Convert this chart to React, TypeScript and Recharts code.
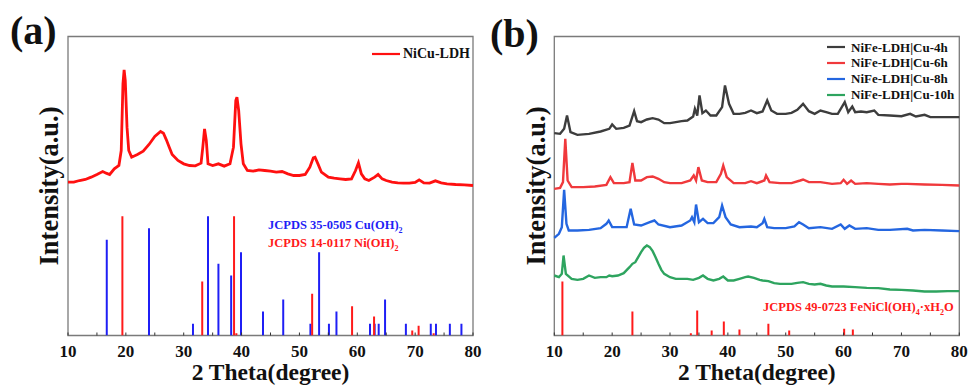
import { Label, Line, LineChart, ReferenceArea, XAxis, YAxis } from 'recharts'

const FONT = '"Times New Roman", "Liberation Serif", serif'

// 2-theta ticks, labels only on the tens
const thetaTicks = [10, 15, 20, 25, 30, 35, 40, 45, 50, 55, 60, 65, 70, 75, 80]

// (a) NiCu-LDH pattern, [2theta, intensity a.u.]
const niCuLdh = [
  [10, 460], [11, 460], [12, 465], [13, 468], [14, 475], [15, 483], [16, 492], [16.6, 487],
  [17.2, 483], [18, 500], [18.8, 510], [19.2, 555], [19.5, 755], [19.7, 797], [19.9, 765],
  [20.2, 625], [20.5, 555], [21, 535], [22, 543], [23, 553], [24, 573], [25, 597], [26, 612],
  [26.5, 607], [27, 587], [27.5, 565], [28, 543], [29, 525], [30, 515], [31, 510], [32, 509],
  [33, 517], [33.3, 565], [33.6, 620], [33.9, 585], [34.2, 515], [35, 510], [36, 515],
  [37, 508], [38, 515], [38.6, 565], [39, 705], [39.2, 715], [39.5, 675], [39.9, 575],
  [40.3, 515], [41, 495], [42, 493], [43, 497], [44, 495], [45, 493], [46, 490], [47, 492],
  [48, 485], [49, 480], [50, 480], [51, 483], [51.8, 505], [52.4, 533], [52.7, 535],
  [53.2, 515], [53.8, 490], [55, 475], [56, 472], [57, 470], [58, 468], [59, 470],
  [59.7, 495], [60.2, 518], [60.7, 485], [61.3, 470], [62, 465], [63, 475], [63.6, 483],
  [64.3, 470], [65, 465], [66, 460], [67, 458], [68, 457], [69, 457], [70, 459], [70.7, 467],
  [71.5, 458], [72.5, 457], [73.5, 464], [74.5, 458], [75.5, 455], [77, 453], [78.5, 452],
  [80, 450],
]

// (a) reference cards
const cuOHPos = [16.7, 24.0, 31.6, 34.2, 36.0, 38.2, 39.9, 43.7, 47.2, 51.9, 53.4, 55.1, 56.4, 62.2, 63.0, 63.7, 64.8, 68.4, 72.7, 73.6, 76.0, 78.0]
const cuOHInt = [287, 322, 35, 358, 215, 180, 250, 72, 108, 35, 250, 35, 72, 35, 35, 35, 108, 35, 35, 35, 35, 35]
const niOHPos = [19.4, 33.2, 38.7, 39.1, 52.2, 59.1, 62.9, 69.5, 70.6, 73.2]
const niOHInt = [358, 162, 358, 7, 125, 88, 57, 15, 29, 7]

// (b) NiFe-LDH|Cu patterns
const cu4h = [
  [10, 607], [11, 605], [11.7, 620], [12.2, 660], [12.8, 610], [14, 602], [16, 605], [18, 612],
  [19.5, 620], [20, 633], [20.7, 620], [22, 623], [23, 630], [23.8, 673], [24.3, 643], [25, 640],
  [26, 648], [27, 652], [28, 648], [29, 637], [30, 637], [31, 640], [32, 643], [33, 645],
  [34, 657], [34.3, 680], [34.7, 660], [35.1, 720], [35.6, 667], [36.2, 675], [37, 660],
  [38, 660], [39, 685], [39.5, 750], [40.2, 695], [41, 665], [42, 665], [43, 668], [44, 675],
  [45, 667], [46, 672], [46.8, 705], [47.5, 675], [48.5, 665], [50, 665], [51, 668], [52, 677],
  [53, 695], [54, 673], [55, 665], [56, 675], [57, 670], [58, 665], [59, 665], [60.2, 700],
  [60.8, 670], [61.5, 687], [62, 670], [63, 672], [64, 670], [65.3, 675], [66, 662], [68, 660],
  [70, 658], [71.5, 665], [72.5, 657], [74, 662], [75, 655], [77, 655], [80, 655],
]
const cu6h = [
  [10, 440], [11, 443], [11.5, 460], [11.9, 590], [12.3, 465], [13, 445], [15, 445], [17, 447],
  [19, 452], [19.7, 475], [20.3, 457], [22, 457], [23, 460], [23.5, 518], [24, 465], [25, 465],
  [26, 475], [27, 477], [28, 470], [29, 460], [30, 457], [32, 457], [33.5, 465], [34.1, 480],
  [34.5, 465], [34.9, 505], [35.5, 465], [36.5, 460], [38, 460], [38.8, 485], [39.2, 510],
  [39.8, 475], [41, 457], [43, 457], [44, 463], [45, 457], [46.3, 465], [46.6, 480], [47.2, 460],
  [49, 457], [51, 457], [52.5, 465], [53, 468], [54, 460], [56, 460], [58, 455], [59.5, 457],
  [60, 467], [60.6, 455], [61.3, 465], [62, 455], [64, 457], [66, 455], [68, 453], [70, 455],
  [71, 455], [74, 453], [77, 452], [80, 450],
]
const cu8h = [
  [10, 293], [10.8, 305], [11.3, 325], [11.7, 437], [12.1, 335], [12.5, 315], [14, 315], [16, 317],
  [18, 322], [19, 335], [19.4, 345], [20, 325], [21, 325], [22.5, 325], [23.2, 380], [23.8, 333],
  [25, 330], [26.5, 340], [27.3, 345], [28, 333], [30, 325], [32, 330], [33.5, 345], [33.8, 355],
  [34.2, 340], [34.5, 393], [35, 340], [35.7, 350], [36.5, 337], [37.5, 337], [38.5, 355],
  [39, 390], [39.6, 355], [40.5, 333], [42, 325], [44, 327], [45, 325], [46, 337], [46.3, 350],
  [46.8, 325], [48, 322], [50, 322], [51.5, 327], [52.3, 340], [53, 333], [54, 322], [56, 325],
  [58, 320], [59.5, 333], [60.2, 320], [61, 330], [62, 320], [64, 322], [66, 317], [68, 317],
  [71, 320], [72, 315], [74, 317], [77, 315], [80, 313],
]
const cu10h = [
  [10, 180], [10.8, 175], [11.3, 185], [11.6, 240], [12, 185], [13, 170], [14, 167], [15, 170],
  [16, 180], [17, 173], [18, 175], [19, 175], [19.5, 180], [20, 178], [21, 180], [22, 187],
  [23, 205], [23.5, 215], [24, 220], [24.5, 235], [25, 250], [25.5, 263], [26, 270], [26.5, 265],
  [27, 253], [27.5, 235], [28, 215], [28.5, 197], [29, 185], [30, 175], [31, 170], [32, 170],
  [33, 170], [34, 167], [35, 173], [35.7, 180], [36.5, 170], [37.5, 165], [38.5, 170],
  [39.2, 177], [40, 165], [41, 165], [42, 170], [43, 175], [43.5, 177], [44.5, 173], [45.5, 167],
  [46, 165], [47, 163], [48, 157], [49, 155], [50, 155], [51, 155], [52, 158], [53, 160],
  [54, 155], [55, 153], [56, 155], [57, 150], [58, 147], [60, 147], [62, 145], [64, 143],
  [66, 142], [68, 138], [70, 137], [72, 135], [74, 132], [76, 132], [78, 133], [80, 133],
]

// (b) reference card
const feNiClPos = [11.4, 23.5, 33.6, 34.7, 37.2, 39.3, 42.0, 47.0, 50.6, 60.1, 61.6]
const feNiClInt = [162, 72, 7, 75, 15, 42, 18, 35, 15, 20, 18]

const toRows = (pts: number[][]) => pts.map(([x, y]) => ({ x, y }))
// each card line goes baseline -> top, then a null breaks the path
const toSticks = (pos: number[], ints: number[]) =>
  pos.flatMap((x, i) => [{ x, y: 0 }, { x, y: ints[i] }, { x, y: null }])

const seriesA = [{ name: 'NiCu-LDH', data: niCuLdh, color: '#ff1010' }]
const seriesB = [
  { name: 'NiFe-LDH|Cu-4h', data: cu4h, color: '#3d3d3d' },
  { name: 'NiFe-LDH|Cu-6h', data: cu6h, color: '#f0393c' },
  { name: 'NiFe-LDH|Cu-8h', data: cu8h, color: '#2466e0' },
  { name: 'NiFe-LDH|Cu-10h', data: cu10h, color: '#2ea45f' },
]

const titleProps = { fontWeight: 'bold', fontFamily: FONT, fill: '#111' }

function ThetaTick({ x, y, payload }: any) {
  const v = payload.value
  if (v % 10 !== 0) return null
  return (
    <text x={x} y={y} dy={11} textAnchor='middle' fill='#111' style={{ fontSize: 17, fontWeight: 700, fontFamily: FONT }}>
      {v}
    </text>
  )
}

function LegendBox({ items, left, top, lineW, gap, fontSize, rowH }: any) {
  return (
    <div style={{ position: 'absolute', left, top, fontFamily: FONT, fontWeight: 'bold', fontSize, color: '#111' }}>
      {items.map((s: any) => (
        <div key={s.name} style={{ display: 'flex', alignItems: 'center', height: rowH }}>
          <svg width={lineW} height={4} style={{ marginRight: gap }}>
            <line x1={0} y1={2} x2={lineW} y2={2} stroke={s.color} strokeWidth={2.2} />
          </svg>
          <span style={{ whiteSpace: 'nowrap' }}>{s.name}</span>
        </div>
      ))}
    </div>
  )
}

function Panel({ width, left, yAxisW, children }: any) {
  return (
    <LineChart width={width} height={387} margin={{ top: 36.5, right: width - 405 - left - yAxisW, bottom: 0, left }}>
      <XAxis
        dataKey='x'
        type='number'
        domain={[10, 80]}
        ticks={thetaTicks}
        interval={0}
        tickSize={-3}
        tickMargin={13}
        tickLine={{ stroke: '#333' }}
        axisLine={false}
        tick={<ThetaTick />}
        height={51.5}
      >
        <Label value='2 Theta(degree)' position='insideBottom' offset={7} fontSize={23.5} {...titleProps} />
      </XAxis>
      <YAxis type='number' domain={[0, 897]} width={yAxisW} tick={false} tickLine={false} axisLine={false} allowDataOverflow>
        <Label value='Intensity(a.u.)' angle={-90} position='center' fontSize={26.5} {...titleProps} />
      </YAxis>
      <ReferenceArea x1={10} x2={80} y1={0} y2={897} stroke='#7a7a7a' strokeWidth={1.3} fill='none' ifOverflow='visible' />
      {children}
    </LineChart>
  )
}

export default function App() {
  const letter = { position: 'absolute' as const, fontFamily: FONT, fontWeight: 'bold' as const, fontSize: 40, lineHeight: '40px', color: '#111' }
  const note = { position: 'absolute' as const, fontFamily: FONT, fontWeight: 'bold' as const, fontSize: 12.5, lineHeight: '14px', whiteSpace: 'nowrap' as const }
  const sub = { fontSize: 8, verticalAlign: 'sub', lineHeight: 0 }
  return (
    <div style={{ position: 'absolute', left: 0, top: 0, width: 971, height: 387, background: '#fff' }}>
      <div style={{ position: 'absolute', left: 0, top: 0 }}>
        <Panel width={490} left={30} yAxisW={38}>
          <Line data={toSticks(cuOHPos, cuOHInt)} dataKey='y' stroke='#1f1ff5' strokeWidth={2} dot={false} activeDot={false} isAnimationActive={false} />
          <Line data={toSticks(niOHPos, niOHInt)} dataKey='y' stroke='#ff1a1a' strokeWidth={2} dot={false} activeDot={false} isAnimationActive={false} />
          {seriesA.map((s) => (
            <Line key={s.name} data={toRows(s.data)} dataKey='y' name={s.name} stroke={s.color} strokeWidth={2.8} dot={false} activeDot={false} isAnimationActive={false} />
          ))}
        </Panel>
      </div>
      <div style={{ position: 'absolute', left: 490, top: 0 }}>
        <Panel width={481} left={26.3} yAxisW={38}>
          <Line data={toSticks(feNiClPos, feNiClInt)} dataKey='y' stroke='#ff1a1a' strokeWidth={2} dot={false} activeDot={false} isAnimationActive={false} />
          {seriesB.map((s) => (
            <Line key={s.name} data={toRows(s.data)} dataKey='y' name={s.name} stroke={s.color} strokeWidth={2.4} dot={false} activeDot={false} isAnimationActive={false} />
          ))}
        </Panel>
      </div>
      <LegendBox items={seriesA} left={372} top={46} lineW={28} gap={3} fontSize={14} rowH={16} />
      <LegendBox items={seriesB} left={827} top={39.6} lineW={18} gap={6} fontSize={13} rowH={15.8} />
      <div style={{ ...letter, left: 10, top: 11 }}>(a)</div>
      <div style={{ ...letter, left: 490, top: 14 }}>(b)</div>
      <div style={{ ...note, left: 268, top: 218, color: '#1f1ff5' }}>
        JCPDS 35-0505 Cu(OH)<span style={sub}>2</span>
      </div>
      <div style={{ ...note, left: 268, top: 236, color: '#ff1a1a' }}>
        JCPDS 14-0117 Ni(OH)<span style={sub}>2</span>
      </div>
      <div style={{ ...note, left: 763, top: 300, color: '#ff1a1a' }}>
        JCPDS 49-0723 FeNiCl(OH)<span style={sub}>4</span>·xH<span style={sub}>2</span>O
      </div>
    </div>
  )
}
